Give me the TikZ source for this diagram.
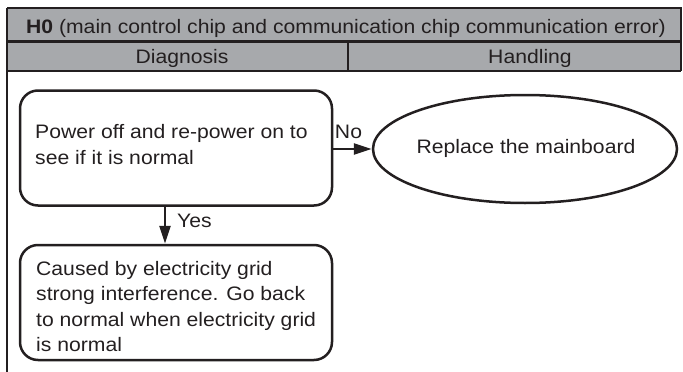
\documentclass[tikz,border=0pt]{standalone}
\usepackage{fontspec}
\setmainfont[FakeStretch=1.085]{Liberation Sans}
\usetikzlibrary{shapes.geometric,arrows.meta}
\definecolor{ink}{HTML}{231F20}
\definecolor{headgray}{HTML}{A7A9AC}
\tikzset{
  rule/.style={draw=ink, line width=2.8pt},
  txt/.style={text=ink, font=\fontsize{19.5}{25.5}\selectfont, inner sep=0pt},
  para/.style={txt, align=left},
  stepbox/.style={draw=ink, line width=2.5pt, rounded corners=18pt,
    minimum width=312pt, minimum height=115pt, inner sep=0pt},
  endcap/.style={draw=ink, line width=2.5pt, ellipse, inner sep=0pt,
    minimum width=304pt, minimum height=108pt},
  arr/.style={draw=ink, line width=2.6pt, -{Triangle[length=18pt,width=11pt]}},
}
\begin{document}
\begin{tikzpicture}[x=1pt,y=-1pt]
\useasboundingbox (0,0) rectangle (683,372);

% header band
\fill[headgray] (7,8) rectangle (681,71);
\draw[rule] (7,8) -- (681,8) -- (681,71);
\draw[rule] (7,41.5) -- (681,41.5);
\draw[rule] (7,71) -- (681,71);
\draw[rule] (348,41.5) -- (348,71);
\draw[rule] (7,8) -- (7,372);

\node[txt, anchor=base] (title) at (346,33) {\textbf{H0} (main control chip and communication chip communication error)};
\node[txt, anchor=base] (diag) at (182,63.5) {Diagnosis};
\node[txt, anchor=base] (hand) at (530,63.5) {Handling};

% flow boxes
\node[stepbox] (check) at (176,148) {};
\node[endcap] (mainboard) at (525,149) {};
\node[stepbox] (grid) at (176,302.5) {};

\node[para, anchor=north west] (checktxt) at (35,124.6)
  {Power off and re-power on to\\see if it is normal};
\node[txt, anchor=base] (mbtxt) at (526,153) {Replace the mainboard};
\node[para, anchor=north west] (gridtxt) at (36,260.8)
  {Caused by electricity grid\\strong interference. Go back\\to normal when electricity grid\\is normal};

% connectors
\draw[arr] (check.east |- mainboard.west) -- (mainboard.west);
\draw[arr] ([xshift=-11pt]check.south) -- ([xshift=-11pt]grid.north);

\node[txt, anchor=base] (nolbl) at (348.5,138) {No};
\node[txt, anchor=base west] (yeslbl) at (177,227) {Yes};
\end{tikzpicture}
\end{document}
